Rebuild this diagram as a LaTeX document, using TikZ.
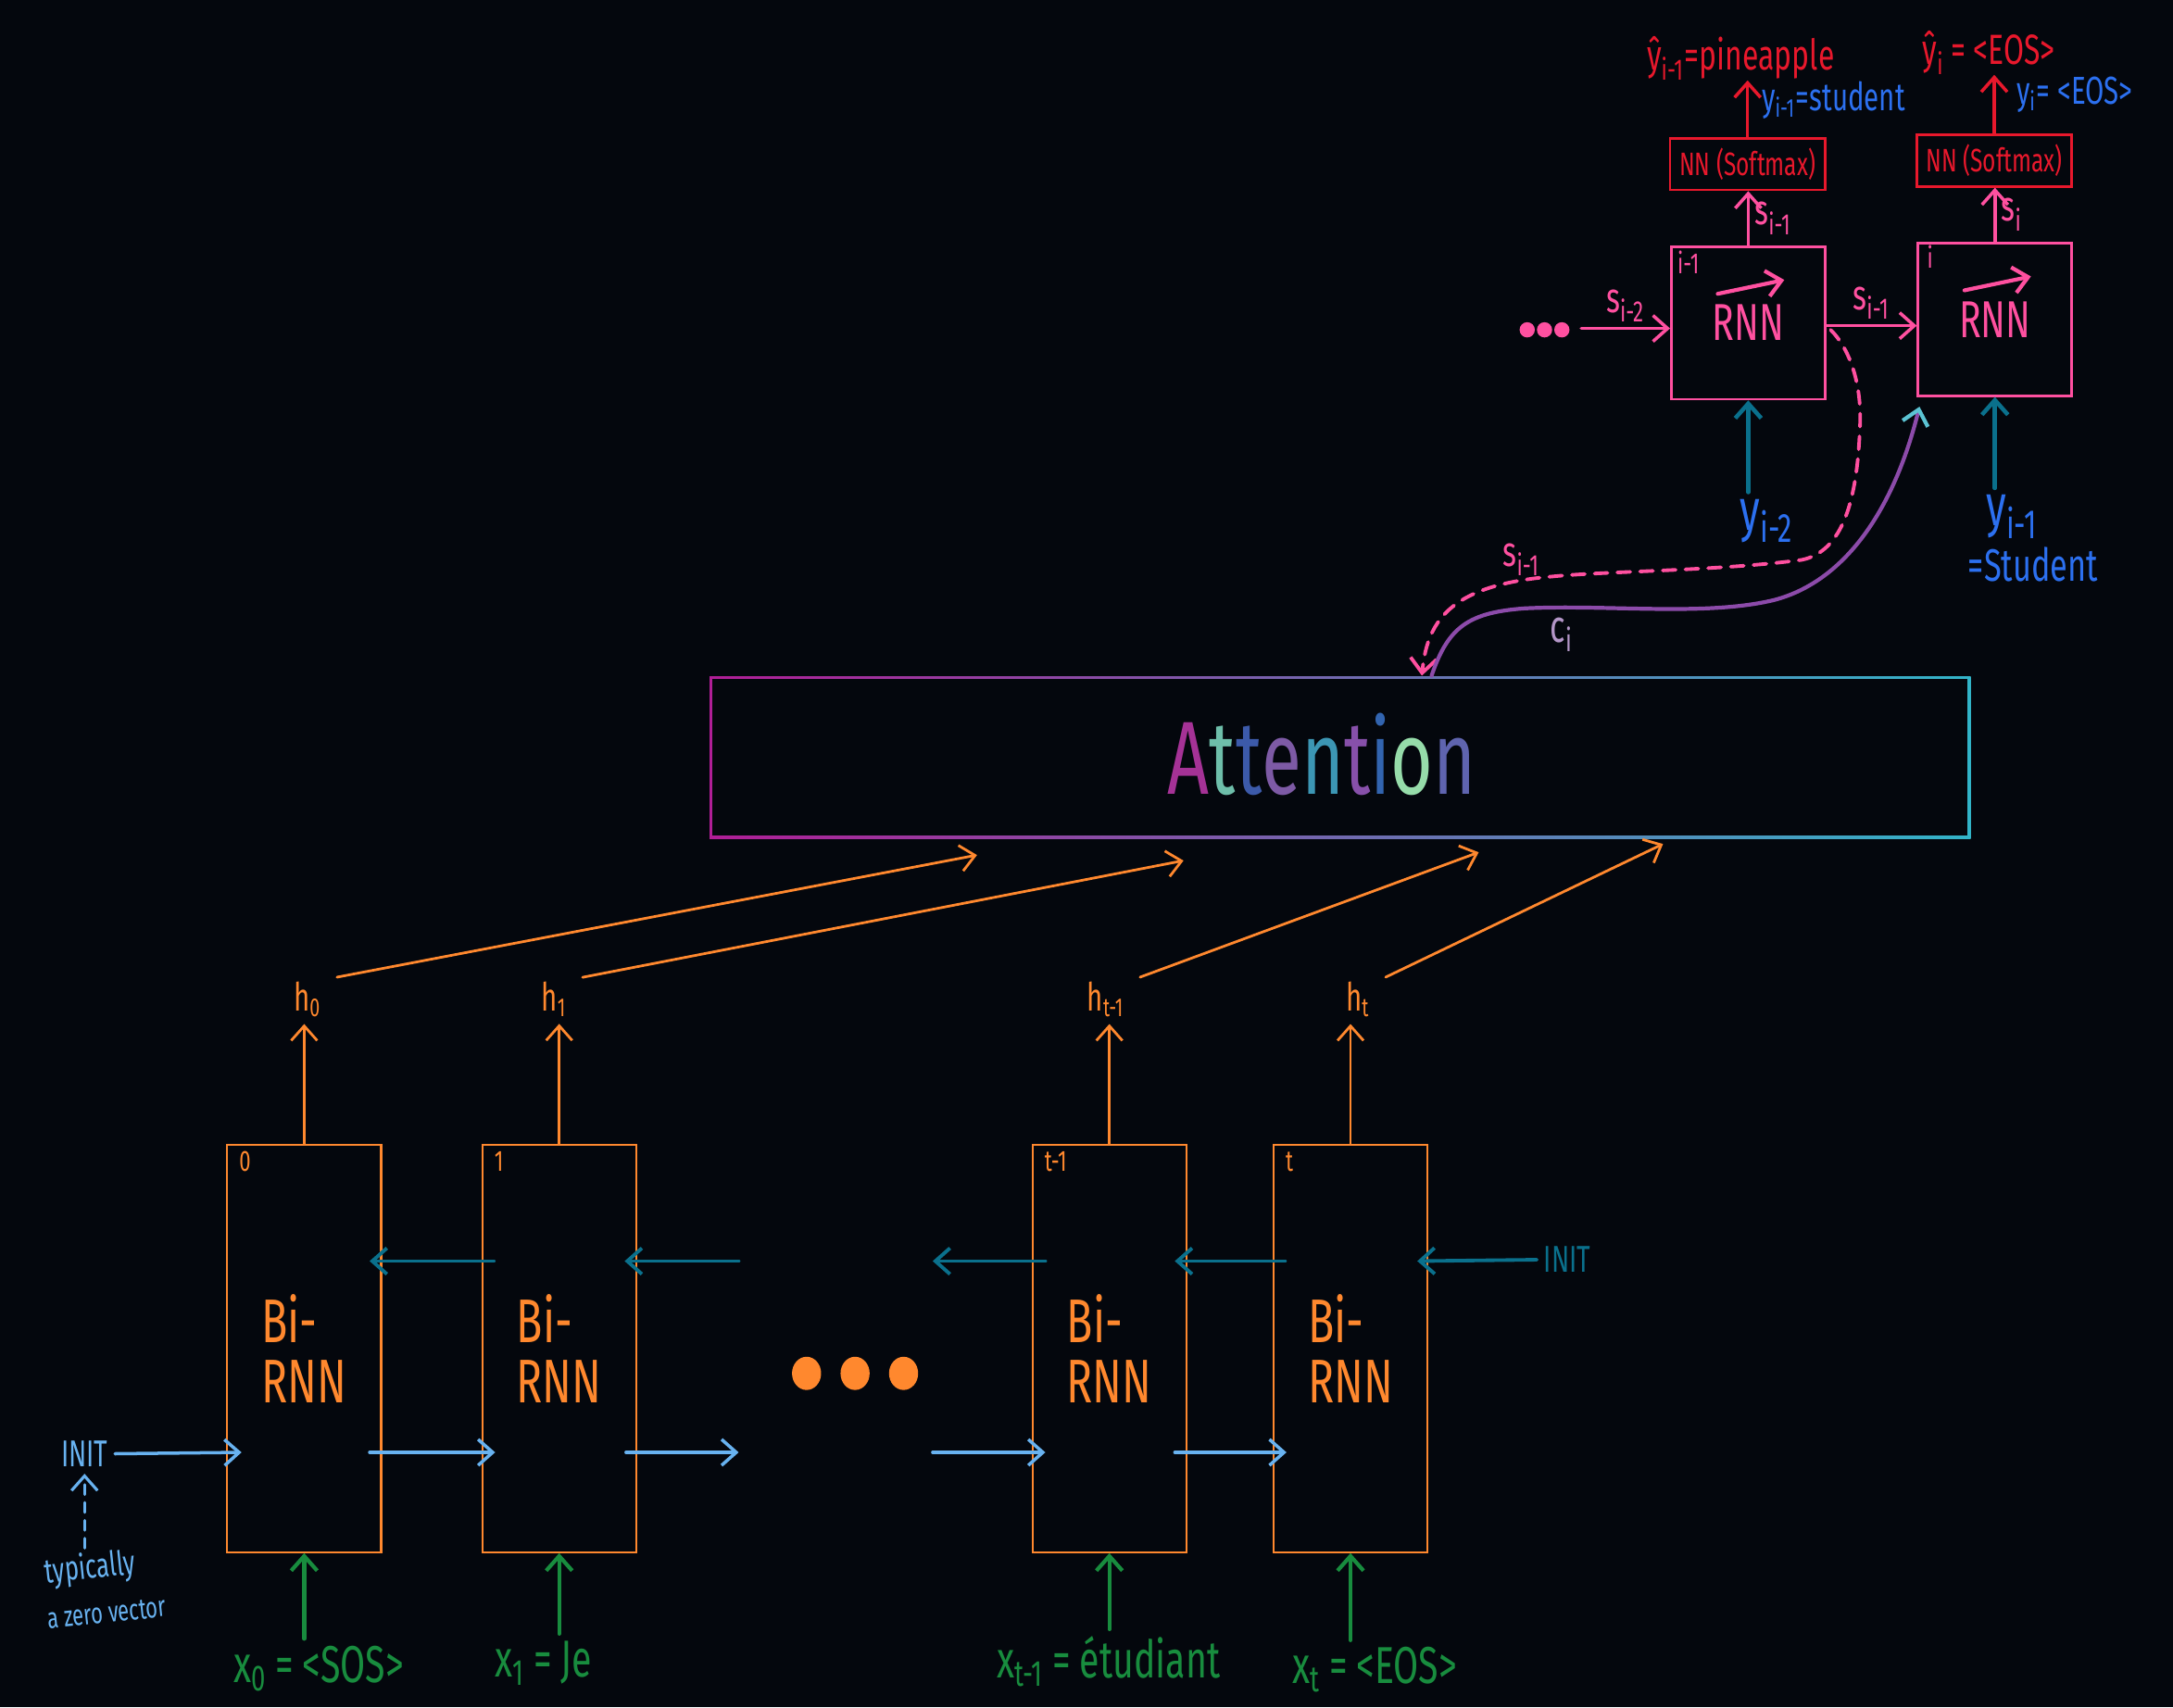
\documentclass[tikz,border=0pt]{standalone}
\usepackage{fontspec}
\setmainfont[FakeStretch=0.7]{Fira Sans}
\usetikzlibrary{arrows.meta}
\definecolor{bgc}{RGB}{4,7,13}
\definecolor{orng}{RGB}{255,136,46}
\definecolor{tealA}{RGB}{10,112,140}
\definecolor{lblue}{RGB}{104,178,240}
\definecolor{grn}{RGB}{24,140,62}
\definecolor{pnk}{RGB}{255,80,160}
\definecolor{rd}{RGB}{232,24,44}
\definecolor{blu}{RGB}{44,112,240}
\definecolor{lav}{RGB}{180,150,200}
\definecolor{attL}{RGB}{176,30,150}
\definecolor{attR}{RGB}{50,180,200}
\definecolor{ciP}{RGB}{140,75,170}
\tikzset{
    AO/.style ={-{Straight Barb[length=4.5pt,width=8pt]}, line cap=round, line join=round},
    BX/.style ={rectangle, draw=orng, line width=0.6pt, minimum width=1.665cm, minimum height=4.41cm,
        text=orng, align=left, font=\fontsize{19}{18.5}\selectfont},
    IX/.style ={anchor=west, inner sep=0pt, font=\fontsize{9}{10}\selectfont},
    RB/.style ={rectangle, draw=pnk, line width=0.8pt, minimum width=1.665cm, minimum height=1.65cm,
        text=pnk, font=\fontsize{16}{18}\selectfont},
    NB/.style ={rectangle, draw=rd, line width=0.8pt, minimum width=1.68cm, minimum height=0.555cm,
        inner sep=0pt, text=rd, font=\fontsize{10}{11}\selectfont},
    AT/.style ={rectangle, minimum width=13.65cm, minimum height=1.755cm, inner sep=0pt,
        font=\fontsize{32}{36}\selectfont,
        path picture={
            \shade[left color=attL, right color=attR] (path picture bounding box.south west) rectangle (path picture bounding box.north east);
            \fill[bgc] ([shift={(2.2,-2.2)}]path picture bounding box.south west) rectangle ([shift={(-2.2,2.2)}]path picture bounding box.north east);}},
    HL/.style ={text=orng, inner sep=2pt, font=\fontsize{12}{14}\selectfont},
    XL/.style ={text=grn, inner sep=2pt, font=\fontsize{16}{18}\selectfont},
    SL/.style ={text=pnk, inner sep=1.5pt, font=\fontsize{13}{15}\selectfont},
    IN/.style ={inner sep=2pt, font=\fontsize{11.5}{13}\selectfont},
    YH/.style ={text=rd, inner sep=0pt, font=\fontsize{13}{15}\selectfont},
    YB/.style ={text=blu, inner sep=1pt, font=\fontsize{12}{14}\selectfont},
    YL/.style ={text=blu, inner sep=2pt, font=\fontsize{18}{20}\selectfont}}
\begin{document}
\begin{tikzpicture}[x=0.015cm,y=-0.015cm]
    \fill[bgc] (0,0) rectangle (1568,1232);
    \useasboundingbox (0,0) rectangle (1568,1232);
    \foreach \nm/\xx/\lb in {b0/219.5/0, b1/403.5/1, bt1/800.5/t-1, bt/974.5/t}{
        \node[BX] (\nm) at (\xx,973) {Bi-\\RNN};
        \node[IX,text=orng] at ([shift={(9,13)}]\nm.north west) {\lb};}
    \foreach \nm/\xx/\lb in {h0/222/0, h1/400/1, ht1/798/t-1, ht/980/t}{
        \node[HL] (\nm) at (\xx,721) {h\textsubscript{\lb}};}
    \foreach \bb/\hh in {b0/h0, b1/h1, bt1/ht1, bt/ht}{
        \draw[AO,orng,line width=0.8pt] (\bb.north) -- (\bb.north |- \hh.south);}
    \node[AT] (att) at (967,546.5) {\hspace*{-0.39cm}\raisebox{0.075cm}{\color[RGB]{165,50,150}A\color[RGB]{110,190,170}t\color[RGB]{60,90,170}t\color[RGB]{125,90,165}e\color[RGB]{60,150,180}n\color[RGB]{135,80,170}t\color[RGB]{50,100,175}i\color[RGB]{150,220,170}o\color[RGB]{95,100,175}n}};
    \foreach \hh/\xx/\yy in {h0/705/617, h1/854/621, ht1/1067/615, ht/1200/609}{
        \coordinate (a\hh) at (\xx,\yy);
        \draw[AO,orng,line width=0.8pt] ([shift={(6,2)}]\hh.north east) -- (a\hh);}
    \foreach \aa/\bb in {b1/b0, bt/bt1}{
        \draw[AO,tealA,line width=1.1pt] ([shift={(9,-63)}]\aa.west) -- ([shift={(-9,-63)}]\bb.east);
        \draw[AO,lblue,line width=1pt] ([shift={(-9,75)}]\bb.east) -- ([shift={(10,75)}]\aa.west);}
    \coordinate (gL1) at (533,910);
    \coordinate (gR1) at (673,910);
    \coordinate (gL2) at (533,1048);
    \coordinate (gR2) at (673,1048);
    \draw[AO,tealA,line width=1.1pt] (gL1) -- ([shift={(-9,-63)}]b1.east);
    \draw[AO,tealA,line width=1.1pt] ([shift={(10,-63)}]bt1.west) -- (gR1);
    \draw[AO,lblue,line width=1pt] ([shift={(-8,75)}]b1.east) -- (gL2);
    \draw[AO,lblue,line width=1pt] (gR2) -- ([shift={(10,75)}]bt1.west);
    \foreach \xx in {582,617,652}{
        \fill[orng] (\xx,991) ellipse[x radius=10.5, y radius=12];}
    \node[IN,text=lblue] (initL) at (61,1049) {INIT};
    \node[IN,text=tealA] (initR) at (1131,909) {INIT};
    \draw[AO,lblue,line width=1pt] (initL.east) -- ([shift={(11,75)}]b0.west);
    \draw[AO,tealA,line width=1.1pt] (initR.west) -- ([shift={(-8,-63)}]bt.east);
    \node[text=lblue, inner sep=1pt, rotate=6, font=\fontsize{10.5}{11}\selectfont] (typ) at (65,1132) {typically};
    \node[text=lblue, inner sep=1pt, rotate=6, font=\fontsize{9}{10}\selectfont] (zv) at (77,1164) {a zero vector};
    \draw[AO,lblue,line width=0.9pt,dash pattern=on 3pt off 2.5pt] (typ.north -| initL) -- (initL.south);
    \node[XL] (x0) at (230,1204) {x\textsubscript{0}\,=\,<SOS>};
    \node[XL] (x1) at (392,1200) {x\textsubscript{1}\,=\,Je};
    \node[XL] (xt1) at (800,1199) {x\textsubscript{t-1}\,=\,étudiant};
    \node[XL] (xt) at (992,1205) {x\textsubscript{t}\,=\,<EOS>};
    \foreach \xx/\bb in {x0/b0, x1/b1, xt1/bt1, xt/bt}{
        \draw[AO,grn,line width=1.2pt] (\xx.north -| \bb.south) -- (\bb.south);}
    \node[RB] (rA) at (1261.5,233) {RNN};
    \node[RB] (rB) at (1439.5,230.5) {RNN};
    \node[IX,text=pnk] at ([shift={(5,12)}]rA.north west) {i-1};
    \node[IX,text=pnk] at ([shift={(7,11)}]rB.north west) {i};
    \foreach \rr in {rA,rB}{
        \draw[AO,pnk,line width=1.2pt] ([shift={(-22,-21)}]\rr.center) -- ([shift={(26,-31)}]\rr.center);}
    \node[NB] (nA) at (1261,118.5) {NN (Softmax)};
    \node[NB] (nB) at (1439,116) {NN (Softmax)};
    \draw[AO,pnk,line width=1pt] (rA.north) -- (rA.north |- nA.south) node[midway,right,SL] {s\textsubscript{i-1}};
    \draw[AO,pnk,line width=1pt] (rB.north) -- (rB.north |- nB.south) node[midway,right,SL] {s\textsubscript{i}};
    \node[YH] (yhA) at (1256,42) {ŷ\textsubscript{i-1}=pineapple};
    \node[YH] (yhB) at (1435,38) {ŷ\textsubscript{i}\,=\,<EOS>};
    \draw[AO,rd,line width=1pt] (nA.north) -- (nA.north |- yhA.south);
    \draw[AO,rd,line width=1pt] (nB.north) -- (nB.north |- yhB.south);
    \node[YB] (ysA) at (1323,72) {y\textsubscript{i-1}=student};
    \node[YB] (ysB) at (1497,68) {y\textsubscript{i}= <EOS>};
    \foreach \xx in {1102,1114.5,1127}{
        \fill[pnk] (\xx,238) circle[radius=5.5];}
    \coordinate (dD) at (1141,237);
    \draw[AO,pnk,line width=1pt] (dD) -- (dD -| rA.west) node[midway,above,SL] {s\textsubscript{i-2}};
    \draw[AO,pnk,line width=1pt] ([shift={(0,2)}]rA.east) -- ([shift={(0,2)}]rA.east -| rB.west) node[midway,above,SL] {s\textsubscript{i-1}};
    \node[YL] (yA) at (1275,376) {y\textsubscript{i-2}};
    \node[YL] (yB) at (1452,373) {y\textsubscript{i-1}};
    \node[text=blu, inner sep=1pt, font=\fontsize{14}{16}\selectfont] (stu) at (1467,407) {=Student};
    \draw[AO,tealA,line width=1.3pt] (yA.north -| rA.south) -- (rA.south);
    \draw[AO,tealA,line width=1.3pt] (yB.north -| rB.south) -- (rB.south);
    \coordinate (dsE) at ([shift={(59,0)}]att.north);
    \coordinate (ciS) at ([shift={(66,0)}]att.north);
    \draw[AO,pnk,line width=1.1pt,dash pattern=on 4pt off 3pt] ([shift={(3,5)}]rA.east)
        .. controls (1335,252) and (1344,278) .. (1342,310)
        .. controls (1340,360) and (1330,398) .. (1300,404)
        .. controls (1240,412) and (1160,412) .. (1120,416)
        .. controls (1050,422) and (1030,445) .. (dsE);
    \node[SL] (sD) at (1098,404) {s\textsubscript{i-1}};
    \draw[-{Straight Barb[length=4.5pt,width=8pt,color=attR!80!white]},ciP,line width=1.2pt,line cap=round] (ciS)
        .. controls (1045,452) and (1060,442) .. (1100,439)
        .. controls (1160,436) and (1230,445) .. (1280,433)
        .. controls (1330,420) and (1366,370) .. ([shift={(2,7)}]rB.south west);
    \node[text=lav, inner sep=1pt, font=\fontsize{14}{16}\selectfont] (ci) at (1127,458) {c\textsubscript{i}};
\end{tikzpicture}
\end{document}
